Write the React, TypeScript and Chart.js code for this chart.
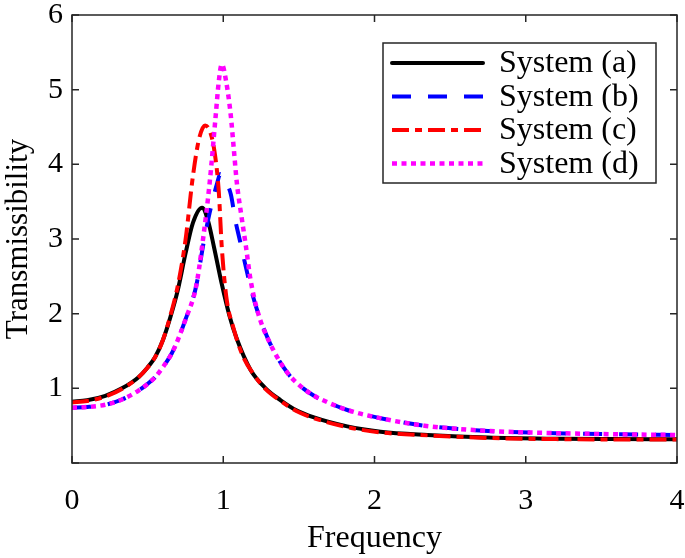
import React, { useEffect, useRef } from "react";
import { Chart, registerables } from "chart.js";

Chart.register(...registerables);

const seriesLabels = ["System (a)", "System (b)", "System (c)", "System (d)"];
const seriesColors = ["#000000", "#0000ff", "#ff0000", "#ff00ff"];

const freqA = [0, 0.1, 0.22, 0.33, 0.44, 0.5, 0.55, 0.6, 0.65, 0.7, 0.75, 0.8, 0.86, 0.9, 0.94, 0.99, 1.04, 1.09, 1.18, 1.28, 1.38, 1.48, 1.6, 1.82, 2.04, 2.35, 2.75, 3.2, 3.6, 4.0];
const transA = [0.82, 0.84, 0.9, 1.0, 1.15, 1.28, 1.42, 1.64, 1.95, 2.32, 2.8, 3.22, 3.42, 3.24, 2.88, 2.4, 1.98, 1.66, 1.25, 1.0, 0.84, 0.71, 0.61, 0.49, 0.42, 0.376, 0.34, 0.325, 0.32, 0.318];

const freqB = [0, 0.1, 0.22, 0.33, 0.44, 0.5, 0.55, 0.6, 0.66, 0.7, 0.75, 0.82, 0.87, 0.91, 0.96, 0.98, 1.01, 1.05, 1.08, 1.11, 1.15, 1.19, 1.23, 1.31, 1.42, 1.51, 1.6, 1.66, 1.82, 2.04, 2.33, 2.75, 3.2, 3.6, 4.0];
const transB = [0.74, 0.75, 0.78, 0.85, 0.97, 1.06, 1.15, 1.28, 1.47, 1.65, 1.92, 2.36, 2.95, 3.35, 3.75, 3.87, 3.78, 3.6, 3.25, 2.98, 2.62, 2.28, 2.01, 1.6, 1.22, 1.03, 0.9, 0.84, 0.71, 0.6, 0.5, 0.43, 0.4, 0.385, 0.375];

const freqC = [0, 0.1, 0.22, 0.33, 0.44, 0.5, 0.55, 0.6, 0.65, 0.7, 0.75, 0.8, 0.84, 0.88, 0.91, 0.94, 0.97, 0.99, 1.02, 1.07, 1.13, 1.21, 1.28, 1.38, 1.48, 1.6, 1.82, 2.04, 2.35, 2.75, 3.2, 3.6, 4.0];
const transC = [0.81, 0.83, 0.89, 0.99, 1.15, 1.28, 1.42, 1.64, 1.97, 2.38, 2.98, 3.85, 4.34, 4.52, 4.45, 4.2, 3.65, 2.9, 2.23, 1.79, 1.43, 1.16, 0.99, 0.83, 0.7, 0.6, 0.48, 0.41, 0.37, 0.335, 0.32, 0.315, 0.315];

const freqD = [0, 0.1, 0.22, 0.33, 0.44, 0.5, 0.55, 0.6, 0.66, 0.7, 0.75, 0.82, 0.86, 0.91, 0.95, 0.97, 0.99, 1.02, 1.05, 1.07, 1.09, 1.12, 1.15, 1.18, 1.23, 1.31, 1.42, 1.51, 1.6, 1.66, 1.82, 2.04, 2.33, 2.75, 3.2, 3.6, 4.0];
const transD = [0.74, 0.75, 0.78, 0.85, 0.97, 1.06, 1.15, 1.28, 1.47, 1.65, 1.92, 2.36, 2.9, 3.75, 4.65, 5.1, 5.34, 5.1, 4.65, 4.2, 3.75, 3.31, 2.9, 2.46, 2.01, 1.6, 1.22, 1.03, 0.9, 0.84, 0.71, 0.6, 0.5, 0.43, 0.4, 0.385, 0.375];

const xTickValues = [0, 1, 2, 3, 4];
const yTickValues = [0, 1, 2, 3, 4, 5, 6];
const yTickLabels = ["", "1", "2", "3", "4", "5", "6"];
const xTitle = "Frequency";
const yTitle = "Transmissibility";

const FONT = "'Liberation Serif', 'Times New Roman', Times, serif";
const dashes: number[][] = [[], [19, 17], [17, 6, 7, 6], [5, 4.5]];

const pts = (xs: number[], ys: number[]) => xs.map((x, i) => ({ x, y: ys[i] }));

const boxPlugin = {
  id: "matlabBox",
  afterDatasetsDraw(chart: any) {
    const { ctx, chartArea: a, scales } = chart;
    ctx.save();
    ctx.strokeStyle = "#262626";
    ctx.lineWidth = 1.5;
    ctx.setLineDash([]);
    ctx.strokeRect(a.left, a.top, a.right - a.left, a.bottom - a.top);
    const L = 7;
    ctx.beginPath();
    xTickValues.forEach((v) => {
      const px = scales.x.getPixelForValue(v);
      ctx.moveTo(px, a.bottom);
      ctx.lineTo(px, a.bottom - L);
      ctx.moveTo(px, a.top);
      ctx.lineTo(px, a.top + L);
    });
    yTickValues.forEach((v) => {
      const py = scales.y.getPixelForValue(v);
      ctx.moveTo(a.left, py);
      ctx.lineTo(a.left + L, py);
      ctx.moveTo(a.right, py);
      ctx.lineTo(a.right - L, py);
    });
    ctx.stroke();

    // legend
    const bw = 273;
    const bh = 140;
    const bx = a.right - 21 - bw;
    const by = a.top + 28;
    ctx.fillStyle = "#ffffff";
    ctx.fillRect(bx, by, bw, bh);
    ctx.lineWidth = 1.5;
    ctx.strokeStyle = "#262626";
    ctx.strokeRect(bx, by, bw, bh);
    chart.data.datasets.forEach((ds: any, i: number) => {
      const y = by + 20 + i * 33.5;
      ctx.beginPath();
      ctx.strokeStyle = ds.borderColor;
      ctx.lineWidth = ds.borderWidth;
      ctx.lineCap = i === 0 ? "round" : "butt";
      ctx.setLineDash(ds.borderDash || []);
      ctx.moveTo(bx + 9, y);
      ctx.lineTo(bx + 100, y);
      ctx.stroke();
      ctx.setLineDash([]);
      ctx.fillStyle = "#000000";
      ctx.font = `32px ${FONT}`;
      ctx.textAlign = "left";
      ctx.textBaseline = "middle";
      ctx.fillText(ds.label, bx + 116, y + 1);
    });
    ctx.restore();
  },
};

export default function App() {
  const ref = useRef<HTMLCanvasElement | null>(null);
  useEffect(() => {
    if (!ref.current) return;
    const data = [pts(freqA, transA), pts(freqB, transB), pts(freqC, transC), pts(freqD, transD)];
    const chart = new Chart(ref.current, {
      type: "line",
      data: {
        datasets: data.map((d, i) => ({
          label: seriesLabels[i],
          data: d,
          borderColor: seriesColors[i],
          backgroundColor: seriesColors[i],
          borderWidth: i === 3 ? 4.5 : 4,
          borderDash: dashes[i],
          borderCapStyle: "butt",
          pointRadius: 0,
          fill: false,
          cubicInterpolationMode: "monotone",
          order: 4 - i,
        })),
      },
      options: {
        animation: false,
        responsive: false,
        maintainAspectRatio: false,
        layout: { padding: { top: 15, right: 8, left: 0, bottom: 0 } },
        plugins: { legend: { display: false }, tooltip: { enabled: false } },
        scales: {
          x: {
            type: "linear",
            min: 0,
            max: 4,
            afterBuildTicks: (s: any) => {
              s.ticks = xTickValues.map((v) => ({ value: v }));
            },
            afterFit: (s: any) => {
              s.height = 95;
              s.paddingLeft = 0;
              s.paddingRight = 0;
            },
            grid: { display: false, drawTicks: false },
            border: { display: false },
            ticks: {
              color: "#000000",
              font: { family: FONT, size: 30 },
              padding: 20,
              maxRotation: 0,
              callback: (v: any) => String(v),
            },
            title: {
              display: true,
              text: xTitle,
              color: "#000000",
              font: { family: FONT, size: 32 },
              padding: { top: 0, bottom: 0 },
            },
          },
          y: {
            type: "linear",
            min: 0,
            max: 6,
            afterBuildTicks: (s: any) => {
              s.ticks = yTickValues.map((v) => ({ value: v }));
            },
            afterFit: (s: any) => {
              s.width = 72;
              s.paddingTop = 0;
              s.paddingBottom = 0;
            },
            grid: { display: false, drawTicks: false },
            border: { display: false },
            ticks: {
              color: "#000000",
              font: { family: FONT, size: 30 },
              padding: 9,
              callback: (v: any) => yTickLabels[yTickValues.indexOf(Number(v))] ?? "",
            },
            title: {
              display: true,
              text: yTitle,
              color: "#000000",
              font: { family: FONT, size: 31 },
              padding: { top: 0, bottom: 0 },
            },
          },
        },
      },
      plugins: [boxPlugin],
    } as any);
    return () => chart.destroy();
  }, []);
  return (
    <div style={{ position: "fixed", left: 0, top: 0, width: 685, height: 558, background: "#ffffff" }}>
      <canvas ref={ref} width={685} height={558} style={{ width: 685, height: 558, display: "block" }} />
    </div>
  );
}
